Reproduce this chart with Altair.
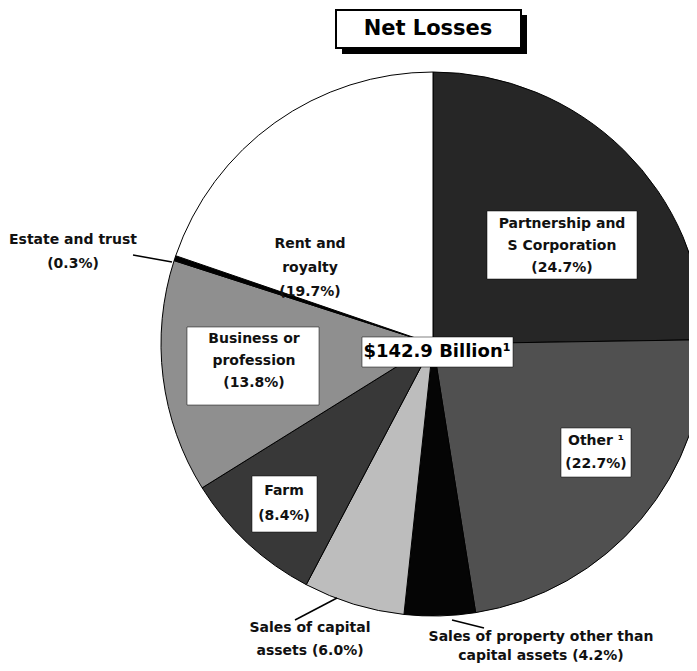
import altair as alt
import pandas as pd

# ---- data ----
categories = [
    "Partnership and S Corporation",
    "Other",
    "Sales of property other than capital assets",
    "Sales of capital assets",
    "Farm",
    "Business or profession",
    "Estate and trust",
    "Rent and royalty",
]
shares = [24.7, 22.7, 4.2, 6.0, 8.4, 13.8, 0.3, 19.7]
fills = ["#262626", "#505050", "#050505", "#bdbdbd", "#383838", "#8f8f8f", "#000000", "#ffffff"]
total_label = "$142.9 Billion\u00b9"
title_text = "Net Losses"

df = pd.DataFrame({"category": categories, "share": shares, "order": list(range(len(categories)))})

# page offset (8px margin) -> plot coordinates
OFF = 8
CX, CY, R = 433 - OFF, 344 - OFF, 272

FONT = "DejaVu Sans"

pie = alt.Chart(df).mark_arc(stroke="#000000", strokeWidth=1, clip=True).encode(
    theta=alt.Theta("share:Q", stack=True),
    color=alt.Color("category:N", scale=alt.Scale(domain=categories, range=fills), legend=None),
    order=alt.Order("order:Q"),
    x=alt.value(CX), y=alt.value(CY), radius=alt.value(R),
)

def pct(v):
    return f"({v}%)"

labels = [
    # (lines, x center, first-line y, line step, boxed?, box x1, x2, y1, y2)
    (["Partnership and", "S Corporation", pct(shares[0])], 562, 224, 22, True, 487, 637, 211, 279),
    (["Other \u00b9", pct(shares[1])], 596, 441, 23, True, 561, 631, 428, 477),
    (["Sales of property other than", "capital assets " + pct(shares[2])], 541, 637, 19, False, 0, 0, 0, 0),
    (["Sales of capital", "assets " + pct(shares[3])], 310, 628, 23, False, 0, 0, 0, 0),
    (["Farm", pct(shares[4])], 284, 491, 25, True, 252, 317, 476, 532),
    (["Business or", "profession", pct(shares[5])], 254, 339, 22, True, 187, 319, 327, 405),
    (["Estate and trust", pct(shares[6])], 73, 240, 24, False, 0, 0, 0, 0),
    (["Rent and", "royalty", pct(shares[7])], 310, 244, 24, False, 0, 0, 0, 0),
]

box_rows, text_rows = [], []
for lines, x, y, step, boxed, bx1, bx2, by1, by2 in labels:
    if boxed:
        box_rows.append({"x": bx1 - OFF, "x2": bx2 - OFF, "y": by1 - OFF, "y2": by2 - OFF})
    for i, ln in enumerate(lines):
        text_rows.append({"t": ln, "x": x - OFF, "y": y - OFF + i * step})

# center total label box
box_rows.append({"x": 362 - OFF, "x2": 513 - OFF, "y": 337 - OFF, "y2": 367 - OFF})

boxes = alt.Chart(pd.DataFrame(box_rows)).mark_rect(fill="white", stroke="#000000", strokeWidth=0.5).encode(
    x=alt.X("x:Q", scale=None), x2="x2:Q", y=alt.Y("y:Q", scale=None), y2="y2:Q"
)

texts = alt.Chart(pd.DataFrame(text_rows)).mark_text(
    font=FONT, fontSize=14, fontWeight="bold", color="#111111", baseline="middle", align="center"
).encode(x=alt.X("x:Q", scale=None), y=alt.Y("y:Q", scale=None), text="t:N")

total = alt.Chart(pd.DataFrame({"t": [total_label], "x": [437 - OFF], "y": [352 - OFF]})).mark_text(
    font=FONT, fontSize=18, fontWeight="bold", color="#000000", baseline="middle", align="center"
).encode(x=alt.X("x:Q", scale=None), y=alt.Y("y:Q", scale=None), text="t:N")

leaders = pd.DataFrame({
    "x": [133 - OFF, 295 - OFF, 452 - OFF],
    "y": [255 - OFF, 620 - OFF, 620 - OFF],
    "x2": [172 - OFF, 337 - OFF, 484 - OFF],
    "y2": [262 - OFF, 598 - OFF, 628 - OFF],
})
leader_lines = alt.Chart(leaders).mark_rule(color="#000000", strokeWidth=1.5).encode(
    x=alt.X("x:Q", scale=None), y=alt.Y("y:Q", scale=None), x2="x2:Q", y2="y2:Q"
)

# title box with drop shadow
shadow = alt.Chart(pd.DataFrame({"x": [342 - OFF], "x2": [527 - OFF], "y": [15 - OFF], "y2": [54 - OFF]})).mark_rect(
    fill="#000000").encode(x=alt.X("x:Q", scale=None), x2="x2:Q", y=alt.Y("y:Q", scale=None), y2="y2:Q")
tbox = alt.Chart(pd.DataFrame({"x": [336 - OFF], "x2": [521 - OFF], "y": [10 - OFF], "y2": [48 - OFF]})).mark_rect(
    fill="white", stroke="#000000", strokeWidth=2).encode(x=alt.X("x:Q", scale=None), x2="x2:Q", y=alt.Y("y:Q", scale=None), y2="y2:Q")
ttext = alt.Chart(pd.DataFrame({"t": [title_text], "x": [428 - OFF], "y": [29 - OFF]})).mark_text(
    font=FONT, fontSize=21, fontWeight="bold", color="#000000", baseline="middle", align="center"
).encode(x=alt.X("x:Q", scale=None), y=alt.Y("y:Q", scale=None), text="t:N")

chart = alt.layer(pie, leader_lines, boxes, texts, total, shadow, tbox, ttext).properties(
    width=681, height=655, padding=0, background="white",
    autosize=alt.AutoSizeParams(type="none"),
).configure_view(stroke=None)

chart.save("out.html", embed_options={"renderer": "svg", "actions": False})
